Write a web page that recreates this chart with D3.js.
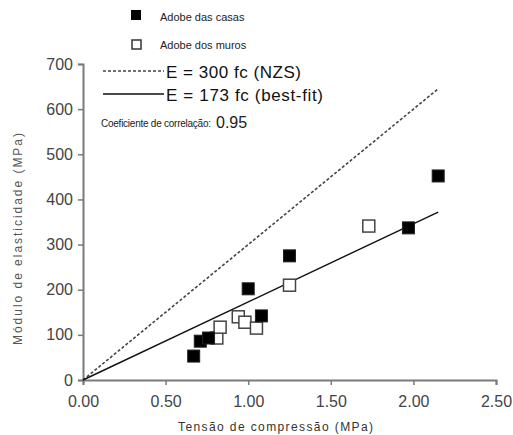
<!DOCTYPE html>
<html><head><meta charset="utf-8">
<script src="https://cdn.jsdelivr.net/npm/d3@7"></script>
<style>body{margin:0;background:#fff}svg{display:block;font-family:"Liberation Sans",Arial,sans-serif}</style>
</head><body>
<svg id="c" width="513" height="435"></svg>
<script>
const casasX = [0.67, 0.71, 0.76, 1.00, 1.08, 1.25, 1.97, 2.15];
const casasY = [53, 86, 93, 202, 142, 275, 337, 452];
const murosX = [0.81, 0.83, 0.94, 0.98, 1.05, 1.25, 1.73];
const murosY = [93, 117, 140, 128, 115, 210, 341];
const xTicks = [0, 0.5, 1.0, 1.5, 2.0, 2.5];
const yTicks = [0, 100, 200, 300, 400, 500, 600, 700];
const nzsSlope = 300, fitSlope = 173, lineEnd = 2.15;
const corr = "0.95";

const svg = d3.select("#c");
const x = d3.scaleLinear().domain([0, 2.5]).range([83, 496]);
const y = d3.scaleLinear().domain([0, 700]).range([380, 64]);
const axisCol = "#7a7a7a", txtCol = "#444";

const gx = svg.append("g").attr("transform", `translate(0,${y(0)})`)
  .call(d3.axisBottom(x).tickValues(xTicks).tickFormat(d3.format(".2f")).tickSizeOuter(0).tickSize(5).tickPadding(11));
const gy = svg.append("g").attr("transform", `translate(${x(0)},0)`)
  .call(d3.axisLeft(y).tickValues(yTicks).tickSizeOuter(0).tickSize(5).tickPadding(5));
[gx, gy].forEach(g => {
  g.select(".domain").attr("stroke", axisCol).attr("stroke-width", 2);
  g.selectAll(".tick line").attr("stroke", axisCol).attr("stroke-width", 1.5);
  g.selectAll(".tick text").attr("fill", txtCol).attr("font-size", 16).attr("font-family", '"Liberation Sans",Arial,sans-serif');
});

// lines
const line = d3.line().x(d => x(d[0])).y(d => y(d[1]));
svg.append("path").attr("d", line([[0,0],[lineEnd, nzsSlope*lineEnd]]))
  .attr("stroke", "#444").attr("stroke-width", 1.6).attr("stroke-dasharray", "3,2").attr("fill", "none");
svg.append("path").attr("d", line([[0,0],[lineEnd, fitSlope*lineEnd]]))
  .attr("stroke", "#111").attr("stroke-width", 1.4).attr("fill", "none");

const s = 12;
svg.append("g").selectAll("rect").data(murosX.map((v,i)=>[v, murosY[i]])).join("rect")
  .attr("x", d => x(d[0]) - s/2).attr("y", d => y(d[1]) - s/2).attr("width", s).attr("height", s)
  .attr("fill", "#fff").attr("stroke", "#444").attr("stroke-width", 1.5);
svg.append("g").selectAll("rect").data(casasX.map((v,i)=>[v, casasY[i]])).join("rect")
  .attr("x", d => x(d[0]) - s/2).attr("y", d => y(d[1]) - s/2).attr("width", s).attr("height", s)
  .attr("fill", "#000").attr("stroke", "#222").attr("stroke-width", 1);

// legend
const lg = svg.append("g");
lg.append("rect").attr("x", 131).attr("y", 10).attr("width", 10).attr("height", 10).attr("fill", "#000");
lg.append("text").attr("x", 160).attr("y", 21).attr("font-size", 11).attr("fill", "#222").text("Adobe das casas");
lg.append("rect").attr("x", 132).attr("y", 40).attr("width", 9).attr("height", 9).attr("fill", "#fff").attr("stroke", "#333").attr("stroke-width", 1.5);
lg.append("text").attr("x", 160).attr("y", 49).attr("font-size", 11).attr("fill", "#222").text("Adobe dos muros");
lg.append("line").attr("x1", 103).attr("x2", 164).attr("y1", 71).attr("y2", 71).attr("stroke", "#444").attr("stroke-width", 1.5).attr("stroke-dasharray", "3,2");
lg.append("text").attr("x", 166).attr("y", 78).attr("font-size", 17).attr("textLength", 135).attr("fill", "#111").text("E = 300 fc (NZS)");
lg.append("line").attr("x1", 103).attr("x2", 164).attr("y1", 94).attr("y2", 94).attr("stroke", "#111").attr("stroke-width", 1.5);
lg.append("text").attr("x", 166).attr("y", 101).attr("font-size", 17).attr("textLength", 157).attr("fill", "#111").text("E = 173 fc (best-fit)");
lg.append("text").attr("x", 101).attr("y", 127).attr("font-size", 10).attr("textLength", 110).attr("fill", "#222").text("Coeficiente de correlação:");
lg.append("text").attr("x", 216).attr("y", 128).attr("font-size", 16).attr("fill", "#222").text(corr);

// axis titles
svg.append("text").attr("x", 178).attr("y", 431).attr("font-size", 12).attr("textLength", 195).attr("fill", "#333").text("Tensão de compressão (MPa)");
svg.append("text").attr("transform", "translate(22,345) rotate(-90)").attr("font-size", 12).attr("textLength", 212).attr("fill", "#555").text("Módulo de elasticidade (MPa)");
</script>
</body></html>
